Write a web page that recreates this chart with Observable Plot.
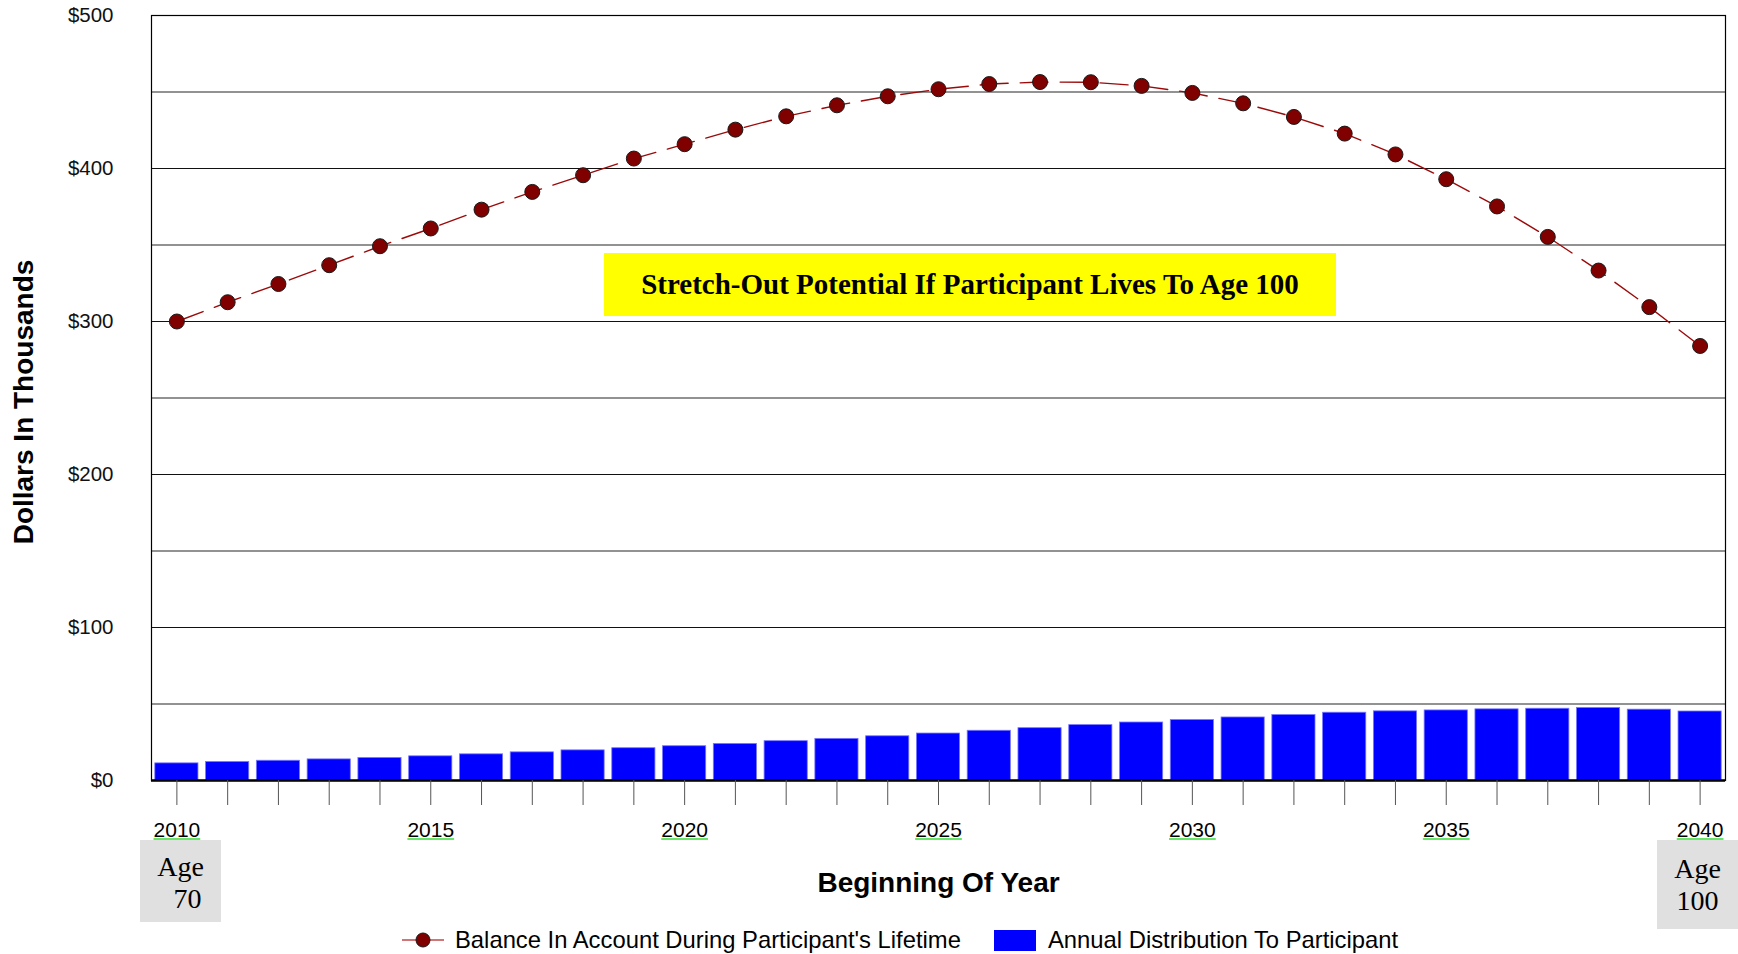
<!DOCTYPE html>
<html>
<head>
<meta charset="utf-8">
<script src="https://cdn.jsdelivr.net/npm/d3@7"></script>
<script src="https://cdn.jsdelivr.net/npm/@observablehq/plot@0.6"></script>
<style>
  html, body { margin: 0; padding: 0; background: #fff; }
  #wrap { position: relative; width: 1738px; height: 954px; overflow: hidden; font-family: "Liberation Sans", Arial, sans-serif; }
  #wrap svg { position: absolute; left: 0; top: 0; }
  .ov { position: absolute; }
  .agebox { background: #e0e0e0; font-family: "Liberation Serif", "Times New Roman", serif; font-size: 28px; line-height: 32px; text-align: center; color: #000; box-sizing: border-box; padding-top: 11px; white-space: pre; }
  #note { background: #ffff00; display: flex; align-items: center; justify-content: center; font-family: "Liberation Serif", "Times New Roman", serif; font-weight: bold; font-size: 29px; color: #000; }
  #legend { position: absolute; top: 926px; left: 0; width: 1738px; height: 28px; font-size: 23.8px; color: #000; }
  .li { position: absolute; top: 0; height: 28px; display: flex; align-items: center; white-space: nowrap; }
</style>
</head>
<body>
<div id="wrap"></div>
<script>
const years = [2010, 2011, 2012, 2013, 2014, 2015, 2016, 2017, 2018, 2019, 2020,
               2021, 2022, 2023, 2024, 2025, 2026, 2027, 2028, 2029, 2030,
               2031, 2032, 2033, 2034, 2035, 2036, 2037, 2038, 2039, 2040];
// Balance in account (thousands of dollars)
const balance = [300.0, 312.6, 324.5, 336.8, 349.2, 360.8, 373.1, 384.7, 395.6, 406.5, 415.9,
                 425.4, 434.1, 441.3, 447.2, 451.8, 455.2, 456.5, 456.4, 454.0, 449.4,
                 442.6, 433.7, 422.8, 409.2, 393.0, 375.2, 355.3, 333.3, 309.4, 284.0];
// Annual distribution (thousands of dollars)
const distribution = [11.2, 12.1, 12.9, 13.8, 14.7, 15.8, 17.1, 18.4, 19.7, 21.1, 22.4,
                      23.9, 25.7, 27.2, 28.9, 30.7, 32.5, 34.2, 36.2, 37.9, 39.5,
                      41.2, 42.8, 44.3, 45.2, 45.8, 46.5, 46.9, 47.4, 46.3, 45.1];
const yTicks = [0, 100, 200, 300, 400, 500];
const gridMajor = [100, 200, 300, 400];
const gridMinor = [50, 150, 250, 350, 450];
const xLabelYears = [2010, 2015, 2020, 2025, 2030, 2035, 2040];
const seriesNames = ["Balance In Account During Participant's Lifetime", "Annual Distribution To Participant"];
const noteText = "Stretch-Out Potential If Participant Lives To Age 100";
const yTitle = "Dollars In Thousands";
const xTitle = "Beginning Of Year";
const ageStart = "Age\n\u00a0\u00a070";
const ageEnd = "Age\n100";

const rows = years.map((y, i) => ({year: y, balance: balance[i], dist: distribution[i]}));

const chart = Plot.plot({
  width: 1738,
  height: 954,
  marginTop: 15,
  marginBottom: 174,
  marginLeft: 151,
  marginRight: 13,
  style: {fontFamily: '"Liberation Sans", Arial, sans-serif', background: "transparent", overflow: "visible"},
  x: {type: "band", domain: years, paddingInner: 0.15, paddingOuter: 0.075, round: false},
  y: {domain: [0, 500]},
  marks: [
    Plot.ruleY(gridMinor, {stroke: "#6e6e6e", strokeWidth: 1.4}),
    Plot.ruleY(gridMajor, {stroke: "#111", strokeWidth: 1.1}),
    Plot.barY(rows, {x: "year", y: "dist", fill: "#0000ff", stroke: "#7777ff", strokeWidth: 0.8}),
    Plot.line(rows, {x: "year", y: "balance", stroke: "#9b0a0a", strokeWidth: 1.4, strokeDasharray: "28,12"}),
    Plot.dot(rows, {x: "year", y: "balance", r: 7.5, fill: "#800000", stroke: "#1a1a1a", strokeWidth: 1}),
    Plot.frame({stroke: "#000", strokeWidth: 1.2}),
    Plot.ruleY([0], {stroke: "#000", strokeWidth: 2.6}),
    Plot.axisY({ticks: yTicks, tickSize: 0, tickPadding: 38, tickFormat: d => "$" + d, fontSize: 20.5, fill: "#111", label: null}),
    Plot.axisX({tickSize: 25, tickPadding: 17, stroke: "#555", fontSize: 21, fill: "#000",
                tickFormat: d => xLabelYears.includes(d) ? String(d) : "", label: null}),
    Plot.text([yTitle], {frameAnchor: "left", dx: -127, dy: 4, rotate: -90, textAnchor: "middle", lineAnchor: "middle", fontSize: 28, fontWeight: "bold", fill: "#000", text: d => d}),
    Plot.text([xTitle], {frameAnchor: "bottom", dy: 103, lineAnchor: "middle", textAnchor: "middle", fontSize: 28, fontWeight: "bold", fill: "#000", text: d => d})
  ]
});

const wrap = document.getElementById("wrap");
wrap.appendChild(chart);

// green underline under x tick labels
const ns = "http://www.w3.org/2000/svg";
chart.querySelectorAll('g[aria-label="x-axis tick label"] text').forEach(t => {
  if (!t.textContent.trim()) return;
  const b = t.getBBox();
  const ln = document.createElementNS(ns, "line");
  const yy = 0.71 * 21 + 1.6;
  ln.setAttribute("x1", b.x);
  ln.setAttribute("x2", b.x + b.width);
  ln.setAttribute("y1", yy);
  ln.setAttribute("y2", yy);
  ln.setAttribute("stroke", "#33dd33");
  ln.setAttribute("stroke-width", "1.6");
  const tr = t.getAttribute("transform");
  if (tr) ln.setAttribute("transform", tr);
  t.parentNode.appendChild(ln);
});

// annotation box
const note = document.createElement("div");
note.id = "note"; note.className = "ov";
Object.assign(note.style, {left: "604px", top: "253px", width: "732px", height: "63px"});
note.textContent = noteText;
wrap.appendChild(note);

// age boxes
const a1 = document.createElement("div");
a1.className = "ov agebox";
Object.assign(a1.style, {left: "140px", top: "840px", width: "81px", height: "82px"});
a1.textContent = ageStart;
wrap.appendChild(a1);
const a2 = document.createElement("div");
a2.className = "ov agebox";
Object.assign(a2.style, {left: "1657px", top: "840px", width: "81px", height: "89px", paddingTop: "13px"});
a2.textContent = ageEnd;
wrap.appendChild(a2);

// legend
const lg = document.createElement("div");
lg.id = "legend";
lg.innerHTML = `
  <div class="li" style="left:402px">
    <svg width="42" height="28" style="position:static;margin-right:11px"><line x1="0" x2="42" y1="14" y2="14" stroke="#c04848" stroke-width="1.6"/><circle cx="21" cy="14" r="7" fill="#800000" stroke="#1a1a1a" stroke-width="1"/></svg>
    <span>${seriesNames[0]}</span>
  </div>
  <div class="li" style="left:994px">
    <span style="display:inline-block;width:42px;height:21px;background:#0000ff;margin-right:12px"></span>
    <span>${seriesNames[1]}</span>
  </div>`;
wrap.appendChild(lg);
</script>
</body>
</html>
